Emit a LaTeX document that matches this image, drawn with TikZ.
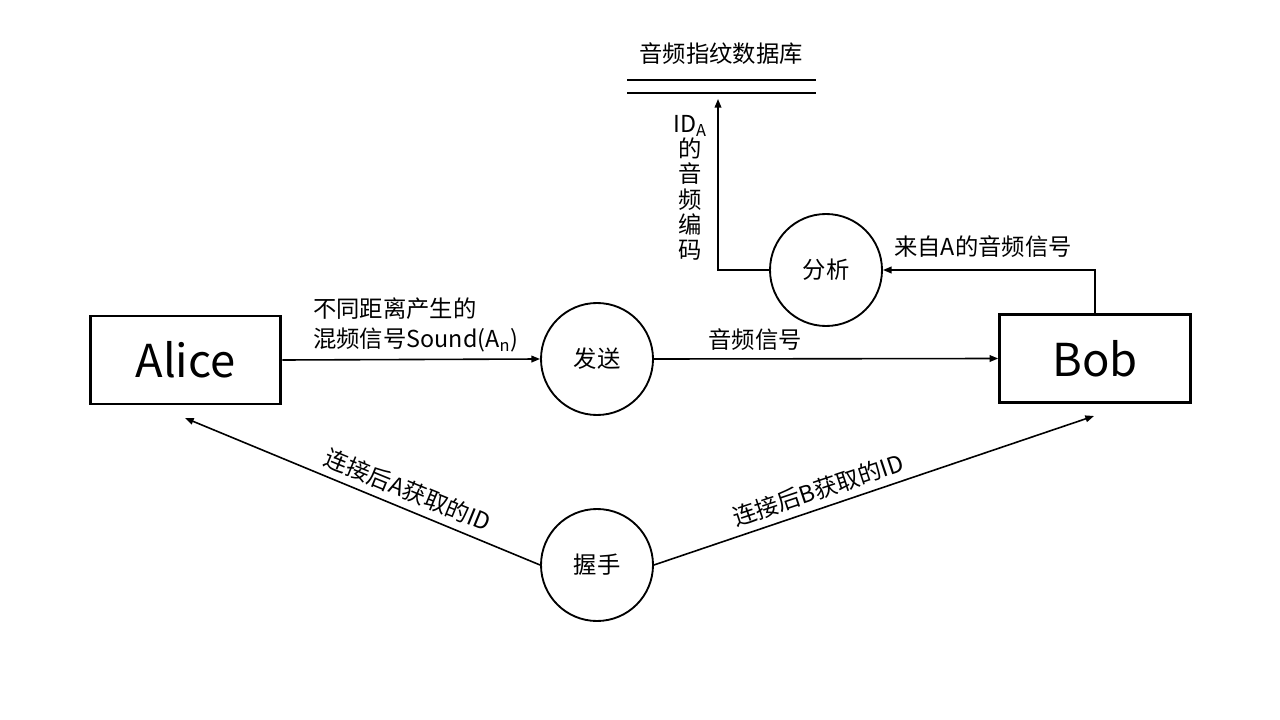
\documentclass[tikz,border=0pt]{standalone}
\usepackage{fontspec}
\setmainfont{Noto Sans CJK SC}
\usetikzlibrary{arrows.meta}
\begin{document}
\begin{tikzpicture}[x=0.75pt,y=-0.75pt,
  lbl/.style={font=\fontsize{17.5}{22.5}\selectfont, inner sep=0pt},
  party/.style={draw, line width=2.2pt, minimum width=143pt, minimum height=66pt, inner sep=0pt, font=\fontsize{34}{40}\selectfont},
  proc/.style={draw, circle, line width=1.4pt, minimum size=84pt, inner sep=0pt, font=\fontsize{17.5}{21}\selectfont},
  arr/.style={-{Triangle[length=6.5pt,width=5pt]}, line width=1.2pt},
  dbline/.style={line width=1.5pt}]
\useasboundingbox (0,0) rectangle (1280,720);
% nodes
\node[party] (alice) at (185.5,360) {Alice};
\node[party] (bob) at (1095,358.5) {Bob};
\node[proc] (send) at (597,359) {发送};
\node[proc] (ana) at (826,270) {分析};
\node[proc] (hs) at (597,565) {握手};
% database
\coordinate (dbA1) at (627,80);
\coordinate (dbA2) at (816,80);
\coordinate (dbB1) at (627,93.5);
\coordinate (dbB2) at (816,93.5);
\draw[dbline] (dbA1) -- (dbA2);
\draw[dbline] (dbB1) -- (dbB2);
\node[lbl] (dbname) at (721,54) {音频指纹数据库};
\coordinate (dbT) at (718,99);
\coordinate (aT) at (185,418);
\coordinate (bT) at (1094,416);
% connectors
\draw[arr] (alice.east) -- (send.west);
\draw[arr] (send.east) -- (bob.west);
\draw[arr] (bob.north) |- (ana.east);
\draw[arr] (ana.west) -| (dbT);
\draw[arr] (hs.west) -- (aT);
\draw[arr] (hs.east) -- (bT);
% labels
\node[lbl, anchor=west, align=left] (l1) at (313,325) {不同距离产生的\\混频信号Sound(A\textsubscript{n})};
\node[lbl] (l2) at (755,340) {音频信号};
\node[lbl] (l3) at (983,247) {来自A的音频信号};
\node[lbl, align=center, font=\fontsize{17.5}{19}\selectfont] (l4) at (690,188) {ID\textsubscript{A}\\的\\音\\频\\编\\码};
\node[lbl, rotate=-22.2] (l5) at (408,490) {连接后A获取的ID};
\node[lbl, rotate=18.5] (l6) at (818,490) {连接后B获取的ID};
\end{tikzpicture}
\end{document}
